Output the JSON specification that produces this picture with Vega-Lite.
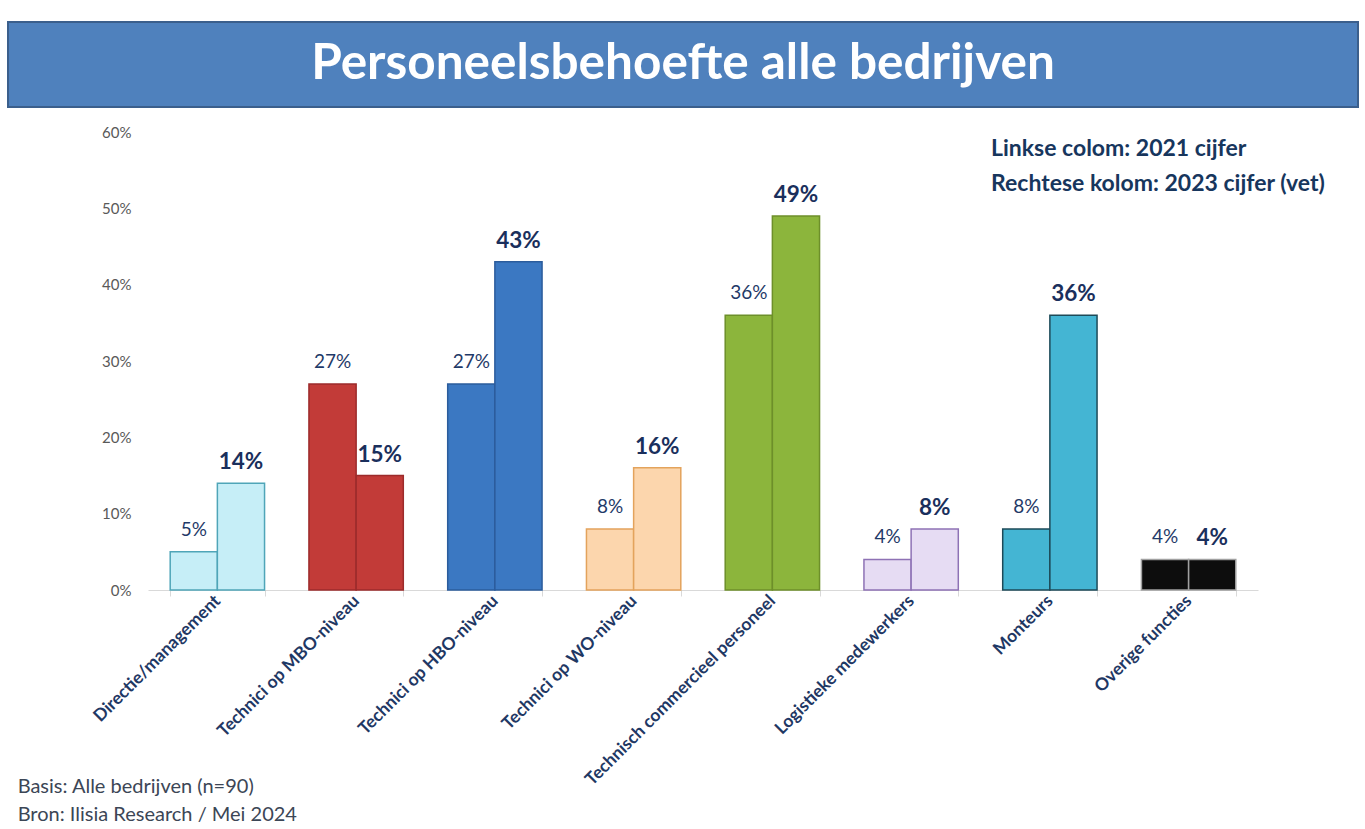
{
  "$schema": "https://vega.github.io/schema/vega-lite/v6.json",
  "padding": {"left": 1, "top": 21, "right": 7, "bottom": 4},
  "background": "white",
  "config": {"font": "Lato", "view": {"stroke": null}},
  "title": {
    "text": ["Basis: Alle bedrijven (n=90)", "Bron: Ilisia Research / Mei 2024"],
    "orient": "bottom", "anchor": "start", "frame": "bounds",
    "fontSize": 20, "fontWeight": "normal", "color": "#3c4656",
    "lineHeight": 28, "offset": -11, "dx": 16
  },
  "spacing": 17,
  "vconcat": [
    {
      "width": 1350,
      "height": 85,
      "view": {"fill": "#4f81bd", "stroke": "#3b5f8c", "strokeWidth": 2},
      "data": {"values": [{"titel": "Personeelsbehoefte alle bedrijven"}]},
      "mark": {"type": "text", "fontSize": 49.5, "fontWeight": "bold", "color": "white", "baseline": "middle", "align": "center", "dy": -1},
      "encoding": {"text": {"field": "titel", "type": "nominal"}}
    },
    {
      "width": 1250,
      "height": 458,
      "data": {
        "values": [
          {"functie": "Directie/management", "jaar": "2021", "waarde": 0.05},
          {"functie": "Directie/management", "jaar": "2023", "waarde": 0.14},
          {"functie": "Technici op MBO-niveau", "jaar": "2021", "waarde": 0.27},
          {"functie": "Technici op MBO-niveau", "jaar": "2023", "waarde": 0.15},
          {"functie": "Technici op HBO-niveau", "jaar": "2021", "waarde": 0.27},
          {"functie": "Technici op HBO-niveau", "jaar": "2023", "waarde": 0.43},
          {"functie": "Technici op WO-niveau", "jaar": "2021", "waarde": 0.08},
          {"functie": "Technici op WO-niveau", "jaar": "2023", "waarde": 0.16},
          {"functie": "Technisch commercieel personeel", "jaar": "2021", "waarde": 0.36},
          {"functie": "Technisch commercieel personeel", "jaar": "2023", "waarde": 0.49},
          {"functie": "Logistieke medewerkers", "jaar": "2021", "waarde": 0.04},
          {"functie": "Logistieke medewerkers", "jaar": "2023", "waarde": 0.08},
          {"functie": "Monteurs", "jaar": "2021", "waarde": 0.08},
          {"functie": "Monteurs", "jaar": "2023", "waarde": 0.36},
          {"functie": "Overige functies", "jaar": "2021", "waarde": 0.04},
          {"functie": "Overige functies", "jaar": "2023", "waarde": 0.04}
        ]
      },
      "encoding": {
        "x": {
          "field": "functie", "type": "nominal", "sort": null,
          "scale": {"paddingInner": 0.32, "paddingOuter": 0.16, "range": [140, 1250]},
          "axis": {
            "title": null, "labelAngle": -45, "labelAlign": "right", "labelBaseline": "middle",
            "labelFontSize": 17.5, "labelFontWeight": "bold", "labelColor": "#1f3864",
            "labelPadding": 2, "labelLimit": 400,
            "tickBand": "extent", "tickColor": "#d9d9d9", "tickSize": 6,
            "domainColor": "#d9d9d9", "grid": false
          }
        },
        "xOffset": {"field": "jaar", "type": "nominal", "scale": {"paddingInner": 0}},
        "y": {
          "field": "waarde", "type": "quantitative",
          "scale": {"domain": [0, 0.6]},
          "axis": {
            "title": null, "format": ".0%", "values": [0, 0.1, 0.2, 0.3, 0.4, 0.5, 0.6],
            "domain": false, "ticks": false, "grid": false,
            "labelFontSize": 15, "labelColor": "#595959", "labelPadding": 17,
            "offset": -140
          }
        }
      },
      "layer": [
        {
          "mark": {"type": "bar", "strokeWidth": 1.5},
          "encoding": {
            "color": {
              "field": "functie", "type": "nominal", "legend": null,
              "scale": {
                "domain": ["Directie/management", "Technici op MBO-niveau", "Technici op HBO-niveau", "Technici op WO-niveau", "Technisch commercieel personeel", "Logistieke medewerkers", "Monteurs", "Overige functies"],
                "range": ["#c6eef7", "#c23b38", "#3b78c2", "#fcd6ad", "#8cb53c", "#e6dcf3", "#44b5d3", "#0d0d0d"]
              }
            },
            "stroke": {
              "field": "functie", "type": "nominal", "legend": null,
              "scale": {
                "domain": ["Directie/management", "Technici op MBO-niveau", "Technici op HBO-niveau", "Technici op WO-niveau", "Technisch commercieel personeel", "Logistieke medewerkers", "Monteurs", "Overige functies"],
                "range": ["#4fa5b8", "#9c2b2b", "#2b5c9c", "#e3a35c", "#6d8f2a", "#8e72b5", "#1d4a58", "#a0a0a0"]
              }
            },
            "opacity": {
              "field": "jaar", "type": "ordinal",
              "scale": {"range": [1, 1]},
              "legend": {
                "title": null, "orient": "none", "legendX": 960, "legendY": 115,
                "symbolSize": 0, "symbolOpacity": 0, "symbolStrokeWidth": 0, "labelOffset": 0,
                "labelFontSize": 23, "labelFontWeight": "bold", "labelColor": "#17365d",
                "rowPadding": 11, "labelLimit": 500,
                "labelExpr": "datum.label == '2021' ? 'Linkse colom: 2021 cijfer' : 'Rechtese kolom: 2023 cijfer (vet)'"
              }
            }
          }
        },
        {
          "transform": [{"filter": "datum.jaar == '2021'"}],
          "mark": {"type": "text", "baseline": "bottom", "dy": -12, "fontSize": 19, "color": "#1f3a68"},
          "encoding": {"text": {"field": "waarde", "type": "quantitative", "format": ".0%"}}
        },
        {
          "transform": [{"filter": "datum.jaar == '2023'"}],
          "mark": {"type": "text", "baseline": "bottom", "dy": -9, "fontSize": 22.5, "fontWeight": "bold", "color": "#1a2f5c"},
          "encoding": {"text": {"field": "waarde", "type": "quantitative", "format": ".0%"}}
        }
      ]
    }
  ]
}
